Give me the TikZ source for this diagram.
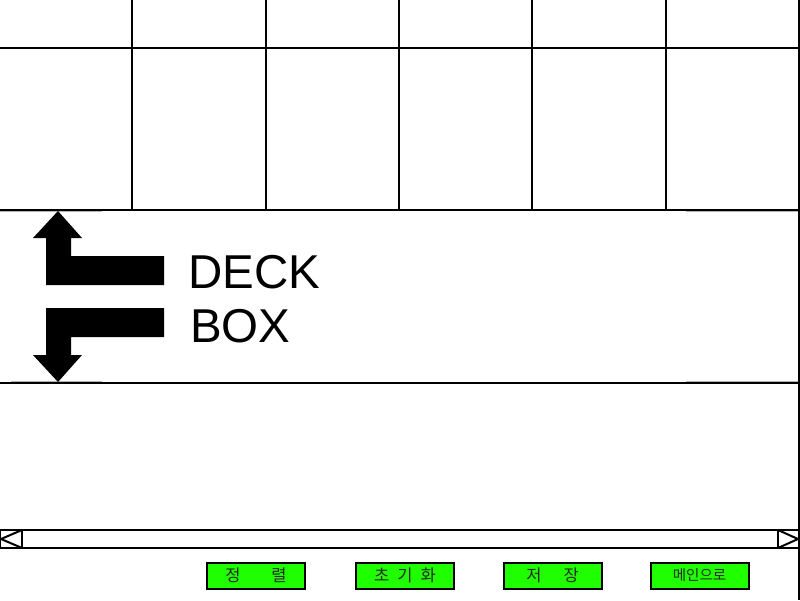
\documentclass[tikz,border=0pt]{standalone}
\usepackage{fontspec}
\setmainfont{Liberation Sans}
\newfontfamily\kor{Noto Sans CJK KR}
\definecolor{btngreen}{RGB}{32,255,0}
\tikzset{
  grid line/.style={line width=2pt},
  edge line/.style={line width=1pt, gray!60},
  btn/.style={draw, line width=2pt, fill=btngreen, minimum width=98pt, minimum height=26pt, inner sep=0pt, font=\kor\fontsize{16.5}{17}\selectfont, text=black!85},
  title/.style={anchor=base west, inner sep=0pt, font=\fontsize{47.5}{50}\selectfont}
}
\begin{document}
\begin{tikzpicture}[x=1pt, y=-1pt]
    \useasboundingbox[fill=white] (0,0) rectangle (800,600);
    \draw[grid line] (0,48) -- (800,48);
    \draw[grid line] (132,0) -- (132,210);
    \draw[grid line] (266,0) -- (266,210);
    \draw[grid line] (399,0) -- (399,210);
    \draw[grid line] (532,0) -- (532,210);
    \draw[grid line] (666,0) -- (666,210);
    \draw[grid line] (0,210) -- (800,210);
    \draw[grid line] (0,383) -- (800,383);
    \draw[grid line] (799,0) -- (799,600);
    \draw[edge line] (0,211.5) -- (102,211.5);
    \draw[edge line] (11,381.5) -- (102,381.5);
    \draw[edge line] (686,211.5) -- (798,211.5);
    \draw[edge line] (686,381.5) -- (798,381.5);
    \fill (58,211) -- (82,238) -- (71,238) -- (71,256) -- (164,256) -- (164,285) -- (46,285) -- (46,238) -- (33,238) -- cycle;
    \fill (46,308) -- (164,308) -- (164,337) -- (71,337) -- (71,355) -- (82,355) -- (58,382) -- (33,355) -- (46,355) -- cycle;
    \node[title] (deck) at (188,288) {DECK};
    \node[title] (box) at (190,342) {BOX};
    \draw[grid line] (0,530) rectangle (800,548);
    \draw[grid line] (22,530) -- (22,548);
    \draw[grid line] (778,530) -- (778,548);
    \draw[grid line] (22,530) -- (1,539) -- (22,548);
    \draw[grid line] (778,530) -- (798,539) -- (778,548);
    \node[btn] (sort) at (256,575.5) {정\hspace{31pt}렬};
    \node[btn] (reset) at (405,575.5) {초\hspace{8pt}기\hspace{8pt}화};
    \node[btn] (save) at (552.5,575.5) {저\hspace{22pt}장};
    \node[btn, font=\kor\fontsize{14.5}{15}\selectfont] (main) at (699.5,575.5) {메인으로};
  \end{tikzpicture}
\end{document}
